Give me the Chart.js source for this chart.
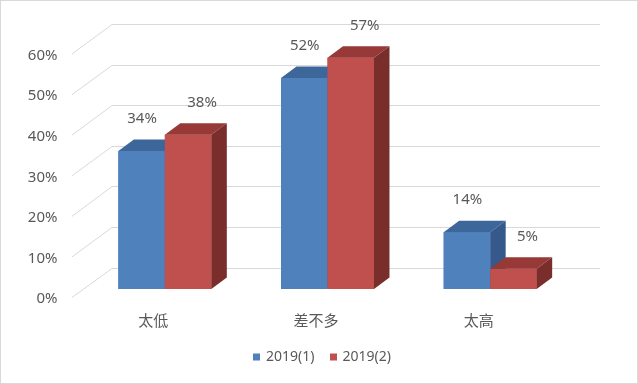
<!DOCTYPE html>
<html><head><meta charset="utf-8">
<script src="https://cdn.jsdelivr.net/npm/chart.js@4.4.1/dist/chart.umd.min.js"></script>
<style>html,body{margin:0;padding:0;background:#fff}canvas{display:block}</style>
</head><body>
<canvas id="c" width="638" height="384"></canvas>
<script>
const categories = ['太低', '差不多', '太高'];
const series1 = [34, 52, 14];
const series2 = [38, 57, 5];
const seriesNames = ['2019(1)', '2019(2)'];
const yTickValues = [0, 10, 20, 30, 40, 50, 60];

const TEXT = '#595959';
const GRID = '#D9D9D9';
const FONT_LAT = '"Noto Sans", "Noto Sans CJK SC", sans-serif';
const FONT_CJK = '"Noto Sans CJK SC", "Noto Sans", sans-serif';
const D = {frontDx: -11.5, frontDy: 8.5, backDx: 28.5, backDy: -21.5, barDx: 15.5, barDy: -11.5};
const faces = [
  {front: '#4F81BD', top: '#3D669A', side: '#35598A'},
  {front: '#C0504D', top: '#963937', side: '#7A2E2C'}
];
const labelDx = [0.5, 14];

const threeD = {
  id: 'threeD',
  beforeDatasetsDraw(chart) {
    const {ctx, chartArea: a, scales: {x, y}} = chart;
    ctx.save();
    ctx.strokeStyle = GRID; ctx.lineWidth = 1;
    ctx.strokeRect(0.5, 0.5, chart.width - 1, chart.height - 1);
    ctx.font = '15px ' + FONT_LAT;
    ctx.fillStyle = TEXT;
    ctx.textAlign = 'right';
    ctx.textBaseline = 'middle';
    y.ticks.forEach(t => {
      const py = y.getPixelForValue(t.value);
      const yb = Math.round(py + D.backDy) + 0.5;
      const yf = py + D.frontDy;
      ctx.beginPath();
      ctx.moveTo(a.left + D.frontDx, yf);
      ctx.lineTo(a.left + D.backDx, yb);
      ctx.lineTo(a.right + D.backDx, yb);
      ctx.stroke();
      ctx.fillText(t.value + '%', a.left - 26, yf + 1.5);
    });
    ctx.font = '15px ' + FONT_CJK;
    ctx.textAlign = 'center';
    categories.forEach((c, i) => {
      ctx.fillText(c, x.getPixelForValue(i) + D.frontDx, a.bottom + 31);
    });
    ctx.restore();
  },
  afterDatasetsDraw(chart) {
    const {ctx} = chart;
    ctx.save();
    [0, 1].forEach(di => {
      const meta = chart.getDatasetMeta(di);
      const f = faces[di];
      meta.data.forEach(el => {
        const p = el.getProps(['x', 'y', 'base', 'width'], true);
        const L = p.x - p.width / 2, R = p.x + p.width / 2, T = p.y, B = p.base;
        ctx.fillStyle = f.front;
        ctx.fillRect(L, T, R - L, B - T);
        ctx.fillStyle = f.top;
        ctx.beginPath();
        ctx.moveTo(L, T); ctx.lineTo(L + D.barDx, T + D.barDy);
        ctx.lineTo(R + D.barDx, T + D.barDy); ctx.lineTo(R, T);
        ctx.closePath(); ctx.fill();
        ctx.fillStyle = f.side;
        ctx.beginPath();
        ctx.moveTo(R, T); ctx.lineTo(R + D.barDx, T + D.barDy);
        ctx.lineTo(R + D.barDx, B + D.barDy); ctx.lineTo(R, B);
        ctx.closePath(); ctx.fill();
      });
    });
    ctx.font = '15px ' + FONT_LAT;
    ctx.fillStyle = TEXT;
    ctx.textAlign = 'center';
    ctx.textBaseline = 'middle';
    [0, 1].forEach(di => {
      const meta = chart.getDatasetMeta(di);
      const vals = chart.data.datasets[di].data;
      meta.data.forEach((el, i) => {
        ctx.fillText(vals[i] + '%', el.x + labelDx[di], el.y - 32);
      });
    });
    // legend
    ctx.font = '14px ' + FONT_LAT;
    const box = 7, gap = 6, sep = 15;
    const widths = seriesNames.map(n => ctx.measureText(n).width);
    const total = widths.reduce((s, w) => s + box + gap + w, 0) + sep;
    let lx = 322 - total / 2;
    const ly = 357;
    ctx.textAlign = 'left';
    seriesNames.forEach((n, i) => {
      ctx.fillStyle = faces[i].front;
      ctx.fillRect(Math.round(lx), ly - 3.5, box, box);
      ctx.fillStyle = TEXT;
      ctx.fillText(n, lx + box + gap, ly);
      lx += box + gap + widths[i] + sep;
    });
    ctx.restore();
  }
};

new Chart(document.getElementById('c'), {
  type: 'bar',
  data: {
    labels: categories,
    datasets: [
      {label: seriesNames[0], data: series1, backgroundColor: faces[0].front, borderWidth: 0,
       categoryPercentage: 0.5716, barPercentage: 1},
      {label: seriesNames[1], data: series2, backgroundColor: faces[1].front, borderWidth: 0,
       categoryPercentage: 0.5716, barPercentage: 1}
    ]
  },
  options: {
    responsive: false,
    animation: false,
    devicePixelRatio: 1,
    layout: {padding: {left: 83.5, right: 66.5, top: 45.5, bottom: 95}},
    plugins: {legend: {display: false}, tooltip: {enabled: false}},
    scales: {
      x: {display: false},
      y: {display: false, min: 0, max: 60,
          afterBuildTicks(s) { s.ticks = yTickValues.map(v => ({value: v})); }}
    }
  },
  plugins: [threeD]
});
</script>
</body></html>
